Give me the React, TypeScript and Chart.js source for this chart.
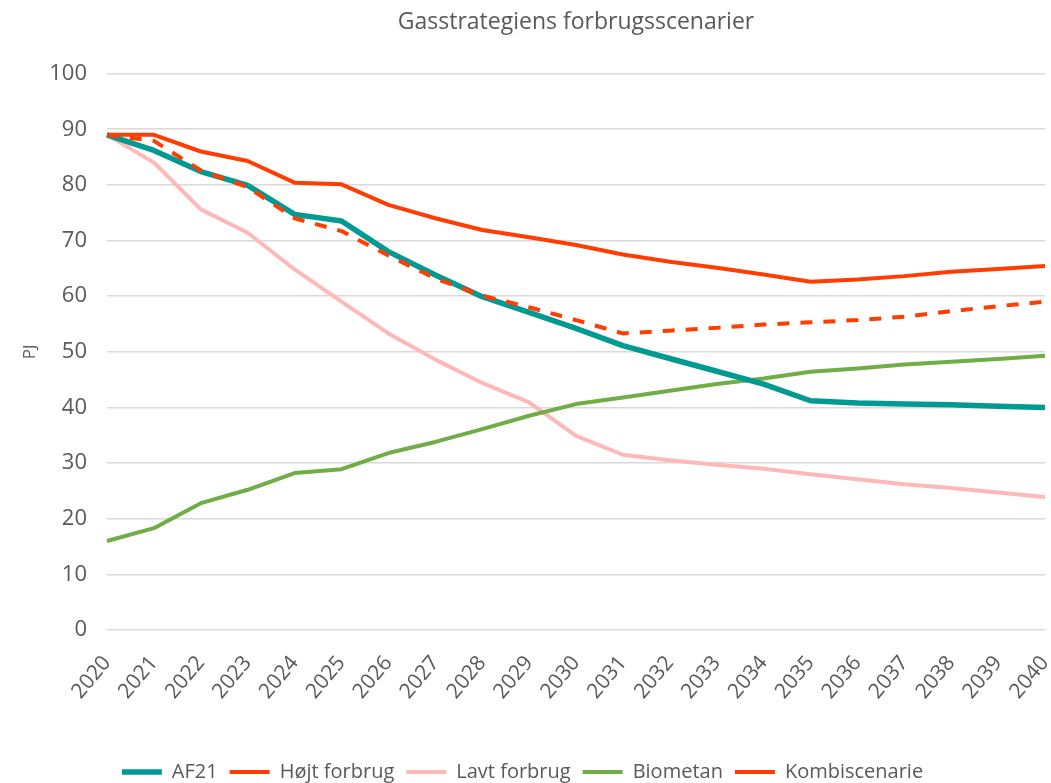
import React, { useEffect, useRef } from "react";
import { Chart, registerables } from "chart.js";

Chart.register(...registerables);

const years = ["2020","2021","2022","2023","2024","2025","2026","2027","2028","2029","2030","2031","2032","2033","2034","2035","2036","2037","2038","2039","2040"];
const af21 = [89, 86.2, 82.4, 79.9, 74.7, 73.5, 68.0, 63.8, 59.9, 57.1, 54.2, 51.1, 48.8, 46.5, 44.2, 41.2, 40.8, 40.6, 40.5, 40.2, 40.0];
const hoejt = [89, 89, 86, 84.3, 80.4, 80.1, 76.4, 74.0, 71.9, 70.6, 69.2, 67.5, 66.2, 65.1, 63.9, 62.6, 63.0, 63.6, 64.4, 64.9, 65.4];
const lavt = [89, 84, 75.6, 71.4, 64.8, 59.0, 53.3, 48.6, 44.4, 40.9, 34.9, 31.5, 30.5, 29.7, 29.0, 28.0, 27.1, 26.2, 25.5, 24.7, 23.9];
const biometan = [16.0, 18.3, 22.8, 25.2, 28.2, 28.9, 31.8, 33.8, 36.1, 38.5, 40.6, 41.8, 43.0, 44.2, 45.2, 46.4, 47.0, 47.7, 48.2, 48.7, 49.3];
const kombi = [89, 87.9, 82.6, 79.6, 74.0, 71.7, 67.3, 63.2, 60.1, 58.0, 55.7, 53.3, 53.8, 54.3, 54.9, 55.3, 55.7, 56.3, 57.3, 58.2, 59.0];
const yTicks = [0, 10, 20, 30, 40, 50, 60, 70, 80, 90, 100];

const FONT = "'Open Sans', sans-serif";
const TEXT = "#595959";

export default function App() {
  const ref = useRef<HTMLCanvasElement | null>(null);
  useEffect(() => {
    document.body.style.margin = "0";
    const ctx = ref.current!;
    const chart = new Chart(ctx, {
      type: "line",
      data: {
        labels: years,
        datasets: [
          { label: "AF21", data: af21, borderColor: "#009A93", backgroundColor: "#009A93", borderWidth: 5.5, order: 1 },
          { label: "Højt forbrug", data: hoejt, borderColor: "#FF3D00", backgroundColor: "#FF3D00", borderWidth: 4, order: 2 },
          { label: "Lavt forbrug", data: lavt, borderColor: "#FFB8B8", backgroundColor: "#FFB8B8", borderWidth: 4, order: 4 },
          { label: "Biometan", data: biometan, borderColor: "#70AD47", backgroundColor: "#70AD47", borderWidth: 4, order: 3 },
          { label: "Kombiscenarie", data: kombi, borderColor: "#FF3D00", backgroundColor: "#FF3D00", borderWidth: 4, borderDash: [12, 11], order: 0 },
        ],
      },
      options: {
        animation: false,
        responsive: true,
        maintainAspectRatio: false,
        elements: {
          point: { radius: 0, hoverRadius: 0, pointStyle: "line" },
          line: { tension: 0, borderJoinStyle: "round", borderCapStyle: "butt" },
        },
        layout: { padding: { left: 0, right: 6, top: 6, bottom: -9 } },
        plugins: {
          title: {
            display: true,
            fullSize: false,
            text: "Gasstrategiens forbrugsscenarier",
            color: TEXT,
            font: { family: FONT, size: 23, weight: "normal" },
            padding: { top: 3, bottom: 37 },
          },
          legend: {
            position: "bottom",
            labels: {
              usePointStyle: true,
              pointStyle: "line",
              pointStyleWidth: 40,
              boxHeight: 20,
              color: TEXT,
              font: { family: FONT, size: 20 },
              padding: 12,
              sort: (a: any, b: any) => a.datasetIndex - b.datasetIndex,
            },
          },
          tooltip: { enabled: false },
        },
        scales: {
          x: {
            type: "category",
            offset: false,
            grid: { display: false },
            border: { display: false },
            ticks: {
              color: TEXT,
              font: { family: FONT, size: 21 },
              minRotation: 50,
              maxRotation: 50,
              autoSkip: false,
              padding: 13,
            },
            afterFit: (axis: any) => {
              axis.paddingRight = 0;
              axis.paddingLeft = 0;
              axis.height = 120;
            },
          },
          y: {
            min: 0,
            max: 100,
            afterBuildTicks: (axis: any) => {
              axis.ticks = yTicks.map((v) => ({ value: v }));
            },
            afterFit: (axis: any) => {
              axis.width = 107;
            },
            grid: { color: "#D9D9D9", lineWidth: 1.5, drawTicks: false },
            border: { display: false },
            ticks: {
              color: TEXT,
              font: { family: FONT, size: 22 },
              padding: 20,
            },
            title: {
              display: true,
              text: "PJ",
              color: TEXT,
              font: { family: FONT, size: 17 },
              padding: { top: 20, bottom: 0 },
            },
          },
        },
      },
    });
    return () => chart.destroy();
  }, []);
  return (
    <div style={{ position: "absolute", left: 0, top: 0, width: 1051, height: 783 }}>
      <canvas ref={ref} />
    </div>
  );
}
